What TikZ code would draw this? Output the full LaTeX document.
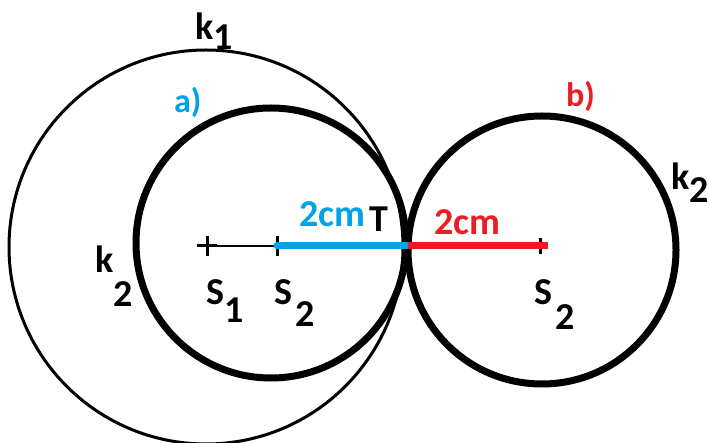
\documentclass[tikz,border=0pt]{standalone}
\usepackage{fontspec}
\setmainfont{Carlito}
\definecolor{pblue}{HTML}{00A2E8}
\definecolor{pred}{HTML}{ED1C24}
\begin{document}
\begin{tikzpicture}[x=1pt,y=-1pt,
  lbl/.style={anchor=base west,inner sep=0pt,font=\fontsize{38}{40}\selectfont\bfseries},
  thinc/.style={line width=3pt},
  thickc/.style={line width=7pt},
  seg/.style={line width=7pt}]
\useasboundingbox (0,0) rectangle (709,443);
\fill[white] (0,0) rectangle (709,443);
% centres
\coordinate (S1) at (207,246);
\coordinate (S2a) at (277,246);
\coordinate (T) at (408,246);
\coordinate (S2b) at (540,246);
\coordinate (Rend) at (548,246);
% circles
\draw[thinc] (206,247) circle [radius=197pt];
\draw[thickc] (271,243) circle [radius=135pt];
\draw[thickc] (542,250) circle [radius=134pt];
% crosses
\draw[line width=3pt] (197,246) -- (217,246);
\draw[line width=3pt] (S1) ++(0,-10) -- ++(0,20);
\draw[line width=3pt] (S2a) ++(0,-10) -- ++(0,20);
\draw[line width=3pt] (S2b) ++(-7,0) -- ++(14,0);
\draw[line width=3pt] (S2b) ++(0,-8) -- ++(0,16);
% segments
\draw[line width=1.5pt] (S1) -- (S2a);
\draw[seg,pblue,line cap=round] (S2a) -- (T);
\draw[seg,pred] (T) -- (Rend);
% labels
\node[lbl] (k1) at (195,40) {k\raisebox{-10pt}{1}};
\node[lbl,pblue,font=\fontsize{34}{36}\selectfont\bfseries] (la) at (174,113) {a)};
\node[lbl,pred,font=\fontsize{34}{36}\selectfont\bfseries] (lb) at (566,107) {b)};
\node[lbl] (k2r) at (671,190) {k\raisebox{-13pt}{2}};
\node[lbl] (k2l) at (95,273) {k\raisebox{-34pt}{2}};
\node[lbl] (s1) at (206,305) {S\raisebox{-18pt}{1}};
\node[lbl] (s2a) at (274,305) {S\kern3pt\raisebox{-22pt}{2}};
\node[lbl] (s2b) at (534,305) {S\kern3pt\raisebox{-25pt}{2}};
\node[lbl,pblue] (cma) at (299,227) {2cm};
\node[lbl] (tl) at (369,232) {T};
\node[lbl,pred] (cmb) at (434,235) {2cm};
\end{tikzpicture}
\end{document}
